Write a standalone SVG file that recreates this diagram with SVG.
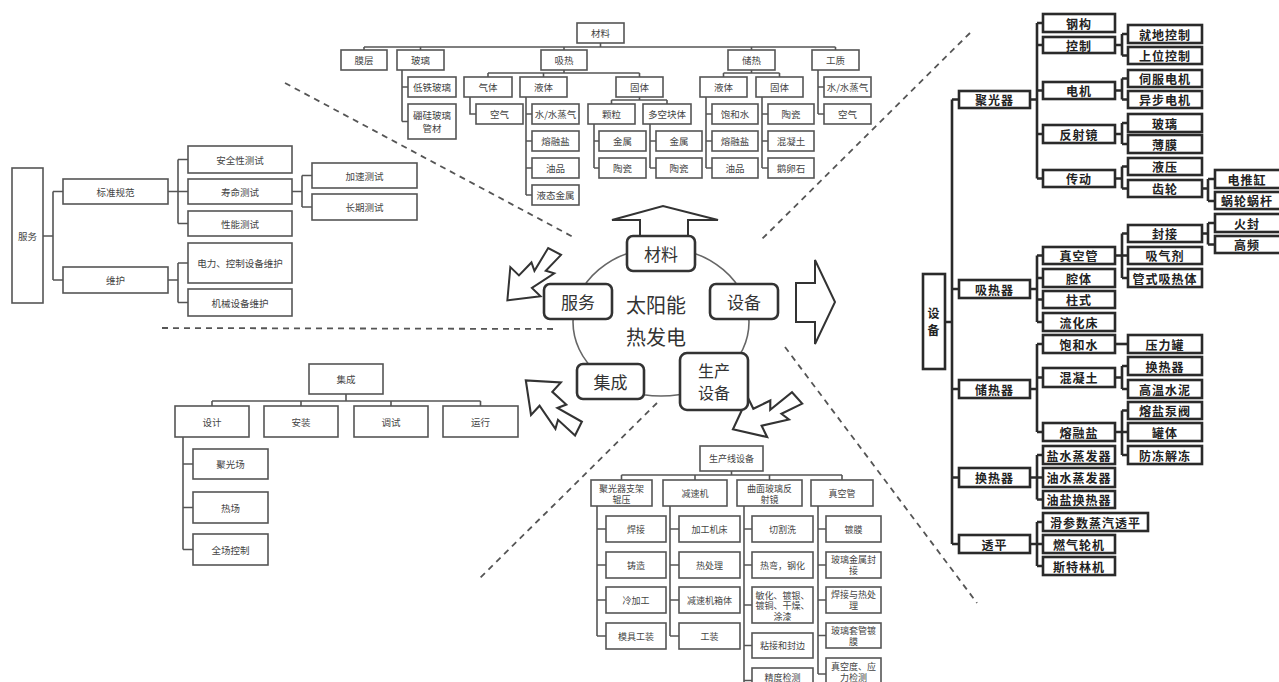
<svg xmlns="http://www.w3.org/2000/svg" width="1279" height="682" viewBox="0 0 1279 682">
<style>
.bx{fill:#fff;stroke:#555;stroke-width:1.6}
.bxe{fill:#fff;stroke:#2a2a2a;stroke-width:2.6}
.bxc{fill:#fff;stroke:#333;stroke-width:2.6}
.t{font-family:"Noto Sans CJK SC","Noto Sans",sans-serif;font-size:9.5px;fill:#444;text-anchor:middle;dominant-baseline:central}
.tp{font-size:9px}
.te{font-size:12px;fill:#222;font-weight:bold;letter-spacing:1px}
.tc{font-size:17px;fill:#333}
.tc2{font-size:16px;fill:#333}
.tb{font-size:20px;fill:#333}
.ln{stroke:#555;stroke-width:1.6;fill:none}
.lne{stroke:#2a2a2a;stroke-width:2.6;fill:none}
.dash{stroke:#555;stroke-width:1.8;stroke-dasharray:6 5;fill:none}
.arr{fill:#fff;stroke:#333;stroke-width:2;stroke-linejoin:miter}
</style>
<defs>
<polygon id="zz" points="0,-7 22,-7 18,-15 44,-9 44,-21 70,0 44,21 44,9 26,9 30,1 4,7"/>
</defs>
<rect width="1279" height="682" fill="#fff"/>

<g id="dividers">
<path class="dash" d="M285,83 L575,238"/>
<path class="dash" d="M970,33 L760,241"/>
<path class="dash" d="M162,328 L558,329"/>
<path class="dash" d="M657,403 L480,578"/>
<path class="dash" d="M785,347 L977,603"/>
</g>

<g id="connectors">
<path class="ln" d="M600.5,43V47M364,47H835.5M364,47V50M420.5,47V50M564,47V50M751.5,47V50M835.5,47V50"/>
<path class="ln" d="M564,70V73M488,73H639.5M488,73V77M543.5,73V77M639.5,73V77"/>
<path class="ln" d="M751.5,70V73M723.5,73H779.5M723.5,73V77M779.5,73V77"/>
<path class="ln" d="M639.5,97V100M611.5,100H667M611.5,100V104M667,100V104"/>
<path class="ln" d="M402,70V121.5M402,87H408M402,121.5H408"/>
<path class="ln" d="M470,97V114H476"/>
<path class="ln" d="M526,97V195M526,114H532M526,141H532M526,168H532M526,195H532"/>
<path class="ln" d="M594,124V168M594,141H599M594,168H599"/>
<path class="ln" d="M650,124V168M650,141H656M650,168H656"/>
<path class="ln" d="M706,97V168M706,114H712M706,141H712M706,168H712"/>
<path class="ln" d="M762,97V168M762,114H768M762,141H768M762,168H768"/>
<path class="ln" d="M818,70V114M818,87H824M818,114H824"/>
<path class="ln" d="M43,236H53M53,191.5V280M53,191.5H63M53,280H63"/>
<path class="ln" d="M168,191.5H178M178,159.5V223.5M178,159.5H188M178,191.5H188M178,223.5H188"/>
<path class="ln" d="M168,280H178M178,263V302.5M178,263H188M178,302.5H188"/>
<path class="ln" d="M292,191.5H302M302,175.5V207M302,175.5H312M302,207H312"/>
<path class="ln" d="M346,394V401M212,401H480.5M212,401V406M301,401V406M391,401V406M480.5,401V406"/>
<path class="ln" d="M183,437V549.5M183,464H193M183,507.5H193M183,549.5H193"/>
<path class="ln" d="M731.5,471V475M621.5,475H842M621.5,475V480M695,475V480M769.5,475V480M842,475V480"/>
<path class="ln" d="M597,506V636M597,529H606M597,565H606M597,600H606M597,636H606"/>
<path class="ln" d="M670,506V636M670,529H679M670,565H679M670,600H679M670,636H679"/>
<path class="ln" d="M744,506V682M744,529H752M744,565H752M744,605H752M744,645.5H752M744,680.5H752"/>
<path class="ln" d="M818,506V674M818,529H826M818,565H826M818,600H826M818,635.5H826M818,674H826"/>
<path class="lne" d="M945,322H952M952,99.5V544M952,99.5H959M952,289H959M952,389H959M952,477.5H959M952,544H959"/>
<path class="lne" d="M1030,99.5H1037M1037,23V178.5M1037,23H1043M1037,45H1043M1037,90.5H1043M1037,134H1043M1037,178.5H1043"/>
<path class="lne" d="M1115,45H1122M1122,34V55.5M1122,34H1128M1122,55.5H1128"/>
<path class="lne" d="M1115,90.5H1122M1122,78.5V99.5M1122,78.5H1128M1122,99.5H1128"/>
<path class="lne" d="M1115,134H1122M1122,123V144M1122,123H1128M1122,144H1128"/>
<path class="lne" d="M1115,178.5H1122M1122,166.5V188.5M1122,166.5H1128M1122,188.5H1128"/>
<path class="lne" d="M1202,188.5H1208M1208,179V201M1208,179H1215M1208,201H1215"/>
<path class="lne" d="M1030,289H1037M1037,255.5V322M1037,255.5H1043M1037,278H1043M1037,299.5H1043M1037,322H1043"/>
<path class="lne" d="M1115,255.5H1122M1122,233.5V278M1122,233.5H1128M1122,255.5H1128M1122,278H1128"/>
<path class="lne" d="M1202,233.5H1208M1208,223V244.5M1208,223H1215M1208,244.5H1215"/>
<path class="lne" d="M1030,389H1037M1037,344V432M1037,344H1043M1037,377.5H1043M1037,432H1043"/>
<path class="lne" d="M1115,344H1128"/>
<path class="lne" d="M1115,377.5H1122M1122,366V389M1122,366H1128M1122,389H1128"/>
<path class="lne" d="M1115,432H1122M1122,410.5V455M1122,410.5H1128M1122,432H1128M1122,455H1128"/>
<path class="lne" d="M1030,477.5H1037M1037,455V499.5M1037,455H1043M1037,477.5H1043M1037,499.5H1043"/>
<path class="lne" d="M1030,544H1037M1037,522V566M1037,522H1043M1037,544H1043M1037,566H1043"/>
</g>

<g id="center">
<ellipse cx="661" cy="322" rx="88" ry="74" fill="none" stroke="#666" stroke-width="1.6"/>
<text class="t tb" x="656" y="304">太阳能</text>
<text class="t tb" x="656" y="336">热发电</text>
</g>
<g id="arrows">
<polygon class="arr" points="640,236 640,220 612,220 663,206 718,220 688,220 688,236"/>
<polygon class="arr" points="796,283 815,283 815,260 835,302 815,344 815,322 796,322"/>
<use href="#zz" class="arr" transform="translate(556,250) rotate(134)"/>
<use href="#zz" class="arr" transform="translate(580,430) rotate(-137.5) scale(1.05)"/>
<use href="#zz" class="arr" transform="translate(799,397) rotate(154) scale(1.05)"/>
</g>
<g id="c-cailiao"><rect class="bxc" x="627" y="236" width="68" height="35" rx="6"/><text class="t tc" x="661" y="253.5">材料</text></g>
<g id="c-fuwu"><rect class="bxc" x="544" y="284" width="68" height="35" rx="6"/><text class="t tc" x="578" y="301.5">服务</text></g>
<g id="c-shebei"><rect class="bxc" x="710" y="284" width="68" height="35" rx="6"/><text class="t tc" x="744" y="301.5">设备</text></g>
<g id="c-jicheng"><rect class="bxc" x="577" y="364" width="67" height="35" rx="6"/><text class="t tc" x="610.5" y="381.5">集成</text></g>
<g id="c-shengchan"><rect class="bxc" x="680" y="353" width="68" height="57" rx="7"/><text class="t tc2" x="714" y="370">生产</text><text class="t tc2" x="714" y="392">设备</text></g>

<g id="m-root"><rect class="bx" x="577" y="23" width="47" height="20"/><text class="t" x="600.5" y="33">材料</text></g>
<g id="m-moceng"><rect class="bx" x="341" y="50" width="46" height="20"/><text class="t" x="364" y="60">膜层</text></g>
<g id="m-boli"><rect class="bx" x="397" y="50" width="47" height="20"/><text class="t" x="420.5" y="60">玻璃</text></g>
<g id="m-xire"><rect class="bx" x="541" y="50" width="46" height="20"/><text class="t" x="564" y="60">吸热</text></g>
<g id="m-chure"><rect class="bx" x="728" y="50" width="47" height="20"/><text class="t" x="751.5" y="60">储热</text></g>
<g id="m-gongzhi"><rect class="bx" x="812" y="50" width="47" height="20"/><text class="t" x="835.5" y="60">工质</text></g>
<g id="m-ditie"><rect class="bx" x="408" y="77" width="48" height="20"/><text class="t" x="432" y="87">低铁玻璃</text></g>
<g id="m-penggui"><rect class="bx" x="408" y="104" width="48" height="35"/><text class="t" x="432" y="115">硼硅玻璃</text><text class="t" x="432" y="128">管材</text></g>
<g id="m-qiti"><rect class="bx" x="464" y="77" width="48" height="20"/><text class="t" x="488" y="87">气体</text></g>
<g id="m-yeti1"><rect class="bx" x="520" y="77" width="47" height="20"/><text class="t" x="543.5" y="87">液体</text></g>
<g id="m-guti1"><rect class="bx" x="616" y="77" width="47" height="20"/><text class="t" x="639.5" y="87">固体</text></g>
<g id="m-kongqi1"><rect class="bx" x="476" y="104" width="47" height="20"/><text class="t" x="499.5" y="114">空气</text></g>
<g id="m-shui1"><rect class="bx" x="532" y="104" width="47" height="20"/><text class="t" x="555.5" y="114">水/水蒸气</text></g>
<g id="m-rongyan1"><rect class="bx" x="532" y="131" width="47" height="20"/><text class="t" x="555.5" y="141">熔融盐</text></g>
<g id="m-youpin1"><rect class="bx" x="532" y="158" width="47" height="20"/><text class="t" x="555.5" y="168">油品</text></g>
<g id="m-yetai"><rect class="bx" x="532" y="185" width="47" height="20"/><text class="t" x="555.5" y="195">液态金属</text></g>
<g id="m-keli"><rect class="bx" x="588" y="104" width="47" height="20"/><text class="t" x="611.5" y="114">颗粒</text></g>
<g id="m-duokong"><rect class="bx" x="643" y="104" width="48" height="20"/><text class="t" x="667" y="114">多空块体</text></g>
<g id="m-jinshu1"><rect class="bx" x="599" y="131" width="47" height="20"/><text class="t" x="622.5" y="141">金属</text></g>
<g id="m-taoci1"><rect class="bx" x="599" y="158" width="47" height="20"/><text class="t" x="622.5" y="168">陶瓷</text></g>
<g id="m-jinshu2"><rect class="bx" x="656" y="131" width="46" height="20"/><text class="t" x="679" y="141">金属</text></g>
<g id="m-taoci2"><rect class="bx" x="656" y="158" width="46" height="20"/><text class="t" x="679" y="168">陶瓷</text></g>
<g id="m-yeti2"><rect class="bx" x="700" y="77" width="47" height="20"/><text class="t" x="723.5" y="87">液体</text></g>
<g id="m-guti2"><rect class="bx" x="756" y="77" width="47" height="20"/><text class="t" x="779.5" y="87">固体</text></g>
<g id="m-baohe"><rect class="bx" x="712" y="104" width="46" height="20"/><text class="t" x="735" y="114">饱和水</text></g>
<g id="m-rongyan2"><rect class="bx" x="712" y="131" width="46" height="20"/><text class="t" x="735" y="141">熔融盐</text></g>
<g id="m-youpin2"><rect class="bx" x="712" y="158" width="46" height="20"/><text class="t" x="735" y="168">油品</text></g>
<g id="m-taoci3"><rect class="bx" x="768" y="104" width="46" height="20"/><text class="t" x="791" y="114">陶瓷</text></g>
<g id="m-hunningtu"><rect class="bx" x="768" y="131" width="46" height="20"/><text class="t" x="791" y="141">混凝土</text></g>
<g id="m-eluanshi"><rect class="bx" x="768" y="158" width="46" height="20"/><text class="t" x="791" y="168">鹅卵石</text></g>
<g id="m-shui2"><rect class="bx" x="824" y="77" width="47" height="20"/><text class="t" x="847.5" y="87">水/水蒸气</text></g>
<g id="m-kongqi2"><rect class="bx" x="824" y="104" width="47" height="20"/><text class="t" x="847.5" y="114">空气</text></g>

<g id="s-root"><rect class="bx" x="12" y="168" width="31" height="135"/><text class="t" x="27.5" y="235.5">服务</text></g>
<g id="s-biaozhun"><rect class="bx" x="63" y="179" width="105" height="25"/><text class="t" x="115.5" y="191.5">标准规范</text></g>
<g id="s-weihu"><rect class="bx" x="63" y="267" width="105" height="26"/><text class="t" x="115.5" y="280">维护</text></g>
<g id="s-anquan"><rect class="bx" x="188" y="146" width="104" height="27"/><text class="t" x="240" y="159.5">安全性测试</text></g>
<g id="s-shouming"><rect class="bx" x="188" y="179" width="104" height="25"/><text class="t" x="240" y="191.5">寿命测试</text></g>
<g id="s-xingneng"><rect class="bx" x="188" y="211" width="104" height="25"/><text class="t" x="240" y="223.5">性能测试</text></g>
<g id="s-dianli"><rect class="bx" x="188" y="243" width="104" height="40"/><text class="t" x="240" y="263">电力、控制设备维护</text></g>
<g id="s-jixie"><rect class="bx" x="188" y="289" width="104" height="27"/><text class="t" x="240" y="302.5">机械设备维护</text></g>
<g id="s-jiasu"><rect class="bx" x="312" y="163" width="105" height="25"/><text class="t" x="364.5" y="175.5">加速测试</text></g>
<g id="s-changqi"><rect class="bx" x="312" y="194" width="105" height="26"/><text class="t" x="364.5" y="207">长期测试</text></g>

<g id="i-root"><rect class="bx" x="309" y="364" width="74" height="30"/><text class="t" x="346" y="379">集成</text></g>
<g id="i-sheji"><rect class="bx" x="175" y="406" width="74" height="31"/><text class="t" x="212" y="421.5">设计</text></g>
<g id="i-anzhuang"><rect class="bx" x="264" y="406" width="74" height="31"/><text class="t" x="301" y="421.5">安装</text></g>
<g id="i-tiaoshi"><rect class="bx" x="354" y="406" width="74" height="31"/><text class="t" x="391" y="421.5">调试</text></g>
<g id="i-yunxing"><rect class="bx" x="443" y="406" width="75" height="31"/><text class="t" x="480.5" y="421.5">运行</text></g>
<g id="i-juguang"><rect class="bx" x="193" y="449" width="75" height="30"/><text class="t" x="230.5" y="464">聚光场</text></g>
<g id="i-rechang"><rect class="bx" x="193" y="492" width="75" height="31"/><text class="t" x="230.5" y="507.5">热场</text></g>
<g id="i-quanchang"><rect class="bx" x="193" y="534" width="75" height="31"/><text class="t" x="230.5" y="549.5">全场控制</text></g>

<g id="p-root"><rect class="bx" x="700" y="446" width="63" height="25"/><text class="t tp" x="731.5" y="458.5">生产线设备</text></g>
<g id="p-c1"><rect class="bx" x="591" y="480" width="61" height="26"/><text class="t tp" x="621.5" y="488">聚光器支架</text><text class="t tp" x="621.5" y="499">辊压</text></g>
<g id="p-c2"><rect class="bx" x="663" y="480" width="64" height="26"/><text class="t tp" x="695" y="493">减速机</text></g>
<g id="p-c3"><rect class="bx" x="737" y="480" width="65" height="26"/><text class="t tp" x="769.5" y="488">曲面玻璃反</text><text class="t tp" x="769.5" y="499">射镜</text></g>
<g id="p-c4"><rect class="bx" x="811" y="480" width="62" height="26"/><text class="t tp" x="842" y="493">真空管</text></g>
<g id="p-hanjie"><rect class="bx" x="606" y="516" width="60" height="26"/><text class="t tp" x="636" y="529">焊接</text></g>
<g id="p-zhuzao"><rect class="bx" x="606" y="552" width="60" height="26"/><text class="t tp" x="636" y="565">铸造</text></g>
<g id="p-lengjiagong"><rect class="bx" x="606" y="587" width="60" height="26"/><text class="t tp" x="636" y="600">冷加工</text></g>
<g id="p-moju"><rect class="bx" x="606" y="623" width="60" height="26"/><text class="t tp" x="636" y="636">模具工装</text></g>
<g id="p-jiagong"><rect class="bx" x="679" y="516" width="61" height="26"/><text class="t tp" x="709.5" y="529">加工机床</text></g>
<g id="p-rechuli"><rect class="bx" x="679" y="552" width="61" height="26"/><text class="t tp" x="709.5" y="565">热处理</text></g>
<g id="p-xiangti"><rect class="bx" x="679" y="587" width="61" height="26"/><text class="t tp" x="709.5" y="600">减速机箱体</text></g>
<g id="p-gongzhuang"><rect class="bx" x="679" y="623" width="61" height="26"/><text class="t tp" x="709.5" y="636">工装</text></g>
<g id="p-qiege"><rect class="bx" x="752" y="516" width="61" height="26"/><text class="t tp" x="782.5" y="529">切割洗</text></g>
<g id="p-rewan"><rect class="bx" x="752" y="552" width="61" height="26"/><text class="t tp" x="782.5" y="565">热弯，钢化</text></g>
<g id="p-minhua"><rect class="bx" x="752" y="587" width="61" height="36"/><text class="t tp" x="782.5" y="595">敏化、镀银、</text><text class="t tp" x="782.5" y="605.5">镀铜、干燥、</text><text class="t tp" x="782.5" y="616">涂漆</text></g>
<g id="p-zhanjie"><rect class="bx" x="752" y="633" width="61" height="25"/><text class="t tp" x="782.5" y="645.5">粘接和封边</text></g>
<g id="p-jingdu"><rect class="bx" x="752" y="668" width="61" height="25"/><text class="t tp" x="782.5" y="677">精度检测</text></g>
<g id="p-dumo"><rect class="bx" x="826" y="516" width="55" height="26"/><text class="t tp" x="853.5" y="529">镀膜</text></g>
<g id="p-fengjie"><rect class="bx" x="826" y="552" width="55" height="26"/><text class="t tp" x="853.5" y="559.5">玻璃金属封</text><text class="t tp" x="853.5" y="570.5">接</text></g>
<g id="p-hanjie2"><rect class="bx" x="826" y="587" width="55" height="26"/><text class="t tp" x="853.5" y="594.5">焊接与热处</text><text class="t tp" x="853.5" y="605.5">理</text></g>
<g id="p-taoguan"><rect class="bx" x="826" y="623" width="55" height="25"/><text class="t tp" x="853.5" y="630">玻璃套管镀</text><text class="t tp" x="853.5" y="641">膜</text></g>
<g id="p-zhenkongdu"><rect class="bx" x="826" y="658" width="55" height="32"/><text class="t tp" x="853.5" y="666">真空度、应</text><text class="t tp" x="853.5" y="677">力检测</text></g>

<g id="e-root"><rect class="bxe" x="923" y="274" width="22" height="95"/><text class="t te" x="934" y="312">设</text><text class="t te" x="934" y="329">备</text></g>
<g id="e-jgq"><rect class="bxe" x="959" y="91" width="71" height="17"/><text class="t te" x="994.5" y="99.5">聚光器</text></g>
<g id="e-xrq"><rect class="bxe" x="959" y="280" width="71" height="18"/><text class="t te" x="994.5" y="289">吸热器</text></g>
<g id="e-crq"><rect class="bxe" x="959" y="380" width="71" height="18"/><text class="t te" x="994.5" y="389">储热器</text></g>
<g id="e-hrq"><rect class="bxe" x="959" y="468" width="71" height="19"/><text class="t te" x="994.5" y="477.5">换热器</text></g>
<g id="e-tp"><rect class="bxe" x="959" y="535" width="71" height="18"/><text class="t te" x="994.5" y="544">透平</text></g>
<g id="e-ganggou"><rect class="bxe" x="1043" y="14" width="72" height="18"/><text class="t te" x="1079" y="23">钢构</text></g>
<g id="e-kongzhi"><rect class="bxe" x="1043" y="37" width="72" height="16"/><text class="t te" x="1079" y="45">控制</text></g>
<g id="e-dianji"><rect class="bxe" x="1043" y="82" width="72" height="17"/><text class="t te" x="1079" y="90.5">电机</text></g>
<g id="e-fanshejing"><rect class="bxe" x="1043" y="125" width="72" height="18"/><text class="t te" x="1079" y="134">反射镜</text></g>
<g id="e-chuandong"><rect class="bxe" x="1043" y="170" width="72" height="17"/><text class="t te" x="1079" y="178.5">传动</text></g>
<g id="e-zhenkong"><rect class="bxe" x="1043" y="247" width="72" height="17"/><text class="t te" x="1079" y="255.5">真空管</text></g>
<g id="e-qiangti"><rect class="bxe" x="1043" y="269" width="72" height="18"/><text class="t te" x="1079" y="278">腔体</text></g>
<g id="e-zhushi"><rect class="bxe" x="1043" y="291" width="72" height="17"/><text class="t te" x="1079" y="299.5">柱式</text></g>
<g id="e-liuhua"><rect class="bxe" x="1043" y="313" width="72" height="18"/><text class="t te" x="1079" y="322">流化床</text></g>
<g id="e-baohe"><rect class="bxe" x="1043" y="335" width="72" height="18"/><text class="t te" x="1079" y="344">饱和水</text></g>
<g id="e-hunningtu"><rect class="bxe" x="1043" y="368" width="72" height="19"/><text class="t te" x="1079" y="377.5">混凝土</text></g>
<g id="e-rongrong"><rect class="bxe" x="1043" y="423" width="72" height="18"/><text class="t te" x="1079" y="432">熔融盐</text></g>
<g id="e-yanshui"><rect class="bxe" x="1043" y="446" width="72" height="18"/><text class="t te" x="1079" y="455">盐水蒸发器</text></g>
<g id="e-youshui"><rect class="bxe" x="1043" y="468" width="72" height="19"/><text class="t te" x="1079" y="477.5">油水蒸发器</text></g>
<g id="e-youyan"><rect class="bxe" x="1043" y="491" width="72" height="17"/><text class="t te" x="1079" y="499.5">油盐换热器</text></g>
<g id="e-huacanshu"><rect class="bxe" x="1043" y="513" width="105" height="18"/><text class="t te" x="1095.5" y="522">滑参数蒸汽透平</text></g>
<g id="e-ranqi"><rect class="bxe" x="1043" y="535" width="72" height="18"/><text class="t te" x="1079" y="544">燃气轮机</text></g>
<g id="e-sitelin"><rect class="bxe" x="1043" y="557" width="72" height="18"/><text class="t te" x="1079" y="566">斯特林机</text></g>
<g id="e-jiudi"><rect class="bxe" x="1128" y="25" width="74" height="18"/><text class="t te" x="1165" y="34">就地控制</text></g>
<g id="e-shangwei"><rect class="bxe" x="1128" y="47" width="74" height="17"/><text class="t te" x="1165" y="55.5">上位控制</text></g>
<g id="e-sifu"><rect class="bxe" x="1128" y="70" width="74" height="17"/><text class="t te" x="1165" y="78.5">伺服电机</text></g>
<g id="e-yibu"><rect class="bxe" x="1128" y="91" width="74" height="17"/><text class="t te" x="1165" y="99.5">异步电机</text></g>
<g id="e-boli"><rect class="bxe" x="1128" y="114" width="74" height="18"/><text class="t te" x="1165" y="123">玻璃</text></g>
<g id="e-bomo"><rect class="bxe" x="1128" y="135" width="74" height="18"/><text class="t te" x="1165" y="144">薄膜</text></g>
<g id="e-yeya"><rect class="bxe" x="1128" y="158" width="74" height="17"/><text class="t te" x="1165" y="166.5">液压</text></g>
<g id="e-chilun"><rect class="bxe" x="1128" y="180" width="74" height="17"/><text class="t te" x="1165" y="188.5">齿轮</text></g>
<g id="e-fengjie"><rect class="bxe" x="1128" y="225" width="74" height="17"/><text class="t te" x="1165" y="233.5">封接</text></g>
<g id="e-xiqiji"><rect class="bxe" x="1128" y="247" width="74" height="17"/><text class="t te" x="1165" y="255.5">吸气剂</text></g>
<g id="e-guanshi"><rect class="bxe" x="1128" y="269" width="74" height="18"/><text class="t te" x="1165" y="278">管式吸热体</text></g>
<g id="e-yaliguan"><rect class="bxe" x="1128" y="335" width="74" height="18"/><text class="t te" x="1165" y="344">压力罐</text></g>
<g id="e-huanreqi"><rect class="bxe" x="1128" y="357" width="74" height="18"/><text class="t te" x="1165" y="366">换热器</text></g>
<g id="e-gaowen"><rect class="bxe" x="1128" y="380" width="74" height="18"/><text class="t te" x="1165" y="389">高温水泥</text></g>
<g id="e-rongyanbeng"><rect class="bxe" x="1128" y="402" width="74" height="17"/><text class="t te" x="1165" y="410.5">熔盐泵阀</text></g>
<g id="e-guanti"><rect class="bxe" x="1128" y="423" width="74" height="18"/><text class="t te" x="1165" y="432">罐体</text></g>
<g id="e-fangdong"><rect class="bxe" x="1128" y="446" width="74" height="18"/><text class="t te" x="1165" y="455">防冻解冻</text></g>
<g id="e-diantuigang"><rect class="bxe" x="1215" y="170" width="70" height="18"/><text class="t te" x="1247" y="179">电推缸</text></g>
<g id="e-wolun"><rect class="bxe" x="1215" y="192" width="70" height="17"/><text class="t te" x="1247" y="200.5">蜗轮蜗杆</text></g>
<g id="e-huofeng"><rect class="bxe" x="1215" y="214" width="70" height="18"/><text class="t te" x="1247" y="223">火封</text></g>
<g id="e-gaopin"><rect class="bxe" x="1215" y="236" width="70" height="17"/><text class="t te" x="1247" y="244.5">高频</text></g>
</svg>
